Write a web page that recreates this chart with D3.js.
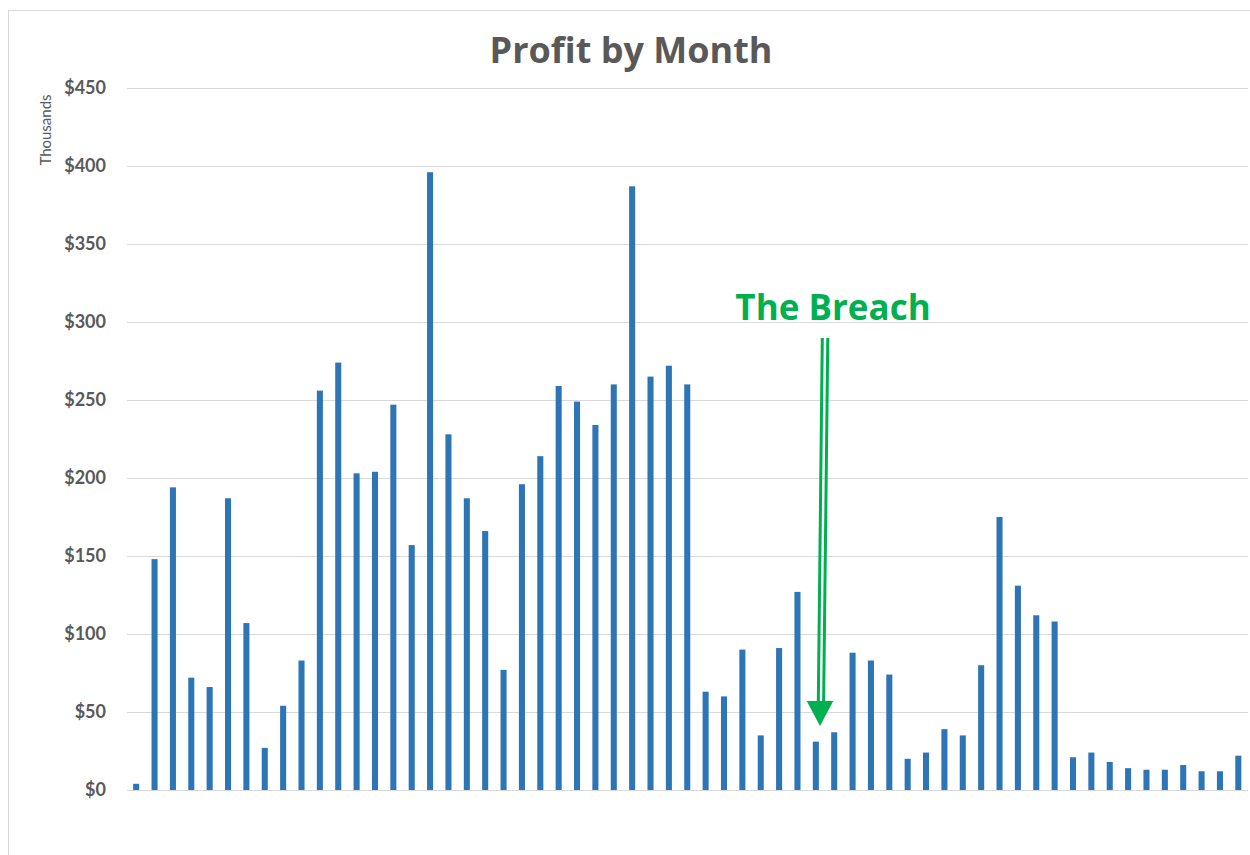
<!DOCTYPE html>
<html>
<head>
<meta charset="utf-8">
<script src="https://cdn.jsdelivr.net/npm/d3@7"></script>
<style>
  html, body { margin: 0; padding: 0; background: #ffffff; }
  svg { display: block; }
</style>
</head>
<body>
<svg id="chart" width="1250" height="855"></svg>
<script>
// ---- data ----
const months = Array.from({length: 61}, (_, i) => "M" + (i + 1));
const profitThousands = [
  4, 148, 194, 72, 66, 187, 107, 27, 54, 83,
  256, 274, 203, 204, 247, 157, 396, 228, 187, 166,
  77, 196, 214, 259, 249, 234, 260, 387, 265, 272,
  260, 63, 60, 90, 35, 91, 127, 31, 37, 88,
  83, 74, 20, 24, 39, 35, 80, 175, 131, 112,
  108, 21, 24, 18, 14, 13, 13, 16, 12, 12,
  22
];
const yTicks = [0, 50, 100, 150, 200, 250, 300, 350, 400, 450];
const titleText = "Profit by Month";
const unitLabel = "Thousands";
const annotationText = "The Breach";

// ---- layout ----
const svg = d3.select("#chart");
const plot = { left: 127, right: 1247.5, top: 88, bottom: 790 };

// chart frame
svg.append("rect")
  .attr("x", 8.5).attr("y", 10.5)
  .attr("width", 1400).attr("height", 1000)
  .attr("fill", "#ffffff").attr("stroke", "#d9d9d9").attr("stroke-width", 1);

const x = d3.scaleBand()
  .domain(months)
  .range([plot.left, plot.right])
  .paddingInner(0.67)
  .paddingOuter(0.335);

const y = d3.scaleLinear()
  .domain([0, 450])
  .range([plot.bottom, plot.top]);

// y axis with gridlines
const yAxis = d3.axisLeft(y)
  .tickValues(yTicks)
  .tickSize(-(plot.right - plot.left))
  .tickPadding(21)
  .tickFormat(d => "$" + d);

const gy = svg.append("g")
  .attr("transform", `translate(${plot.left},0)`)
  .call(yAxis);
gy.select(".domain").remove();
gy.selectAll(".tick line")
  .attr("stroke", "#d9d9d9").attr("stroke-width", 1)
  .attr("shape-rendering", "crispEdges");
gy.selectAll(".tick text")
  .attr("fill", "#595959")
  .attr("font-family", "Lato, 'Open Sans', sans-serif")
  .attr("font-weight", "bold")
  .attr("font-size", 18);

// bars
svg.append("g").selectAll("rect")
  .data(profitThousands)
  .join("rect")
  .attr("x", (d, i) => x(months[i]))
  .attr("y", d => y(d))
  .attr("width", x.bandwidth())
  .attr("height", d => y(0) - y(d))
  .attr("fill", "#2E75B6");

// title
svg.append("text")
  .attr("x", 631).attr("y", 63)
  .attr("text-anchor", "middle")
  .attr("fill", "#595959")
  .attr("font-family", "'Open Sans', Lato, sans-serif")
  .attr("font-weight", "bold")
  .attr("font-size", 36)
  .text(titleText);

// unit label
svg.append("text")
  .attr("transform", "translate(51,130) rotate(-90)")
  .attr("text-anchor", "middle")
  .attr("fill", "#595959")
  .attr("font-family", "Lato, 'Open Sans', sans-serif")
  .attr("font-size", 15)
  .text(unitLabel);

// annotation
const green = "#00B050";
svg.append("text")
  .attr("x", 833).attr("y", 320)
  .attr("text-anchor", "middle")
  .attr("fill", green)
  .attr("font-family", "'Open Sans', Lato, sans-serif")
  .attr("font-weight", "bold")
  .attr("font-size", 35)
  .text(annotationText);

const shaft = [
  [[822.3, 338], [818.3, 703]],
  [[827.8, 338], [823.6, 703]]
];
svg.append("g").selectAll("line")
  .data(shaft)
  .join("line")
  .attr("x1", d => d[0][0]).attr("y1", d => d[0][1])
  .attr("x2", d => d[1][0]).attr("y2", d => d[1][1])
  .attr("stroke", green)
  .attr("stroke-width", 3);
svg.append("polygon")
  .attr("points", "806.7,701 833.3,701 820,726")
  .attr("fill", green);
</script>
</body>
</html>
